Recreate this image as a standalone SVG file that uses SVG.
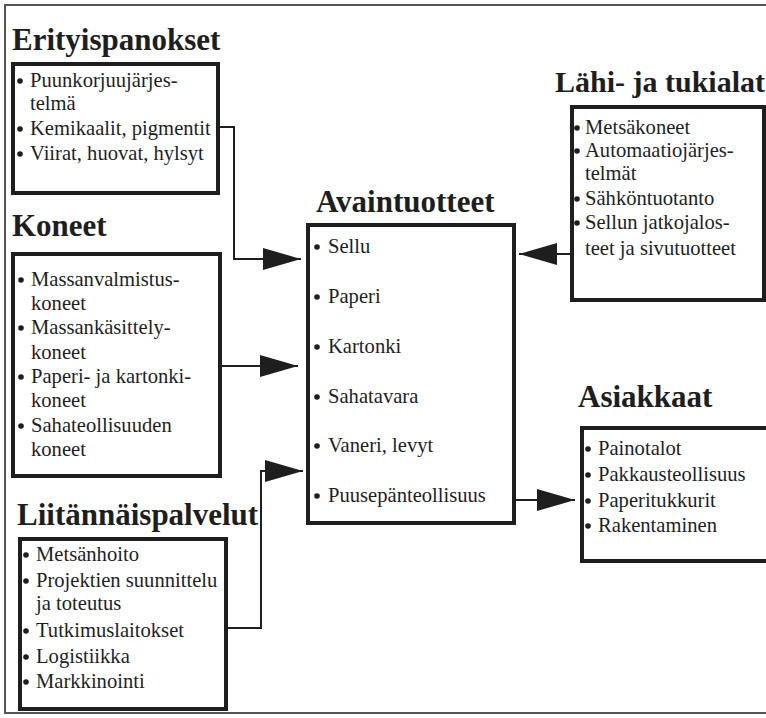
<svg xmlns="http://www.w3.org/2000/svg" width="766" height="718" viewBox="0 0 766 718">
<defs>
<style>
.title{font-family:"Liberation Serif","Times New Roman",serif;font-weight:bold;font-size:31px;fill:#1e1e1e}
.item{font-family:"Liberation Serif","Times New Roman",serif;font-size:20.6px;fill:#1e1e1e}
.box{fill:#fff;stroke:#1e1e1e;stroke-width:4}
.bul{fill:#1e1e1e}
.conn{fill:none;stroke:#1e1e1e;stroke-width:2}
.frame{fill:none;stroke:#555;stroke-width:2}
</style>
<marker id="arr" markerUnits="userSpaceOnUse" markerWidth="40" markerHeight="24" refX="38" refY="11" orient="auto">
<path d="M0,0 L38,11 L0,22 Z" fill="#1e1e1e"/>
</marker>
</defs>
<rect width="766" height="718" fill="#fff"/>
<path class="frame" d="M766,5 H5 V713 H766"/>

<g id="connectors">
<path class="conn" d="M218,127 H234 V259 H301" marker-end="url(#arr)"/>
<path class="conn" d="M220,366 H298" marker-end="url(#arr)"/>
<path class="conn" d="M226,628 H261 V471 H303" marker-end="url(#arr)"/>
<path class="conn" d="M572,254 H519" marker-end="url(#arr)"/>
<path class="conn" d="M514,500 H575" marker-end="url(#arr)"/>
</g>

<g id="erityispanokset">
<text class="title" x="12" y="50">Erityispanokset</text>
<rect class="box" x="13" y="64" width="205" height="129"/>
<circle class="bul" cx="20" cy="81" r="2.8"/>
<text class="item" x="30" y="87">Puunkorjuujärjes-</text>
<text class="item" x="30" y="110">telmä</text>
<circle class="bul" cx="20" cy="129" r="2.8"/>
<text class="item" x="30" y="135">Kemikaalit, pigmentit</text>
<circle class="bul" cx="20" cy="154" r="2.8"/>
<text class="item" x="30" y="160">Viirat, huovat, hylsyt</text>
</g>

<g id="koneet">
<text class="title" x="12" y="236">Koneet</text>
<rect class="box" x="13" y="254" width="207" height="222"/>
<circle class="bul" cx="21" cy="280" r="2.8"/>
<text class="item" x="31" y="286">Massanvalmistus-</text>
<text class="item" x="31" y="310">koneet</text>
<circle class="bul" cx="21" cy="328" r="2.8"/>
<text class="item" x="31" y="334">Massankäsittely-</text>
<text class="item" x="31" y="359">koneet</text>
<circle class="bul" cx="21" cy="377" r="2.8"/>
<text class="item" x="31" y="383">Paperi- ja kartonki-</text>
<text class="item" x="31" y="407">koneet</text>
<circle class="bul" cx="21" cy="426" r="2.8"/>
<text class="item" x="31" y="432">Sahateollisuuden</text>
<text class="item" x="31" y="456">koneet</text>
</g>

<g id="liitannaispalvelut">
<text class="title" x="17" y="525">Liitännäispalvelut</text>
<rect class="box" x="20" y="539" width="206" height="170"/>
<circle class="bul" cx="26" cy="555" r="2.8"/>
<text class="item" x="36" y="561">Metsänhoito</text>
<circle class="bul" cx="26" cy="581" r="2.8"/>
<text class="item" x="36" y="587">Projektien suunnittelu</text>
<text class="item" x="36" y="610">ja toteutus</text>
<circle class="bul" cx="26" cy="631" r="2.8"/>
<text class="item" x="36" y="637">Tutkimuslaitokset</text>
<circle class="bul" cx="26" cy="657" r="2.8"/>
<text class="item" x="36" y="663">Logistiikka</text>
<circle class="bul" cx="26" cy="682" r="2.8"/>
<text class="item" x="36" y="688">Markkinointi</text>
</g>

<g id="avaintuotteet">
<text class="title" x="316" y="212">Avaintuotteet</text>
<rect class="box" x="308" y="225" width="206" height="298"/>
<circle class="bul" cx="317" cy="247" r="2.8"/>
<text class="item" x="328" y="253">Sellu</text>
<circle class="bul" cx="317" cy="297" r="2.8"/>
<text class="item" x="328" y="303">Paperi</text>
<circle class="bul" cx="317" cy="347" r="2.8"/>
<text class="item" x="328" y="353">Kartonki</text>
<circle class="bul" cx="317" cy="397" r="2.8"/>
<text class="item" x="328" y="403">Sahatavara</text>
<circle class="bul" cx="317" cy="446" r="2.8"/>
<text class="item" x="328" y="452">Vaneri, levyt</text>
<circle class="bul" cx="317" cy="496" r="2.8"/>
<text class="item" x="328" y="502">Puusepänteollisuus</text>
</g>

<g id="lahi-ja-tukialat">
<text class="title" x="555" y="92" style="font-size:30px">Lähi- ja tukialat</text>
<rect class="box" x="572" y="107" width="192" height="193"/>
<circle class="bul" cx="577" cy="128" r="2.8"/>
<text class="item" x="585" y="134">Metsäkoneet</text>
<circle class="bul" cx="577" cy="151" r="2.8"/>
<text class="item" x="585" y="157">Automaatiojärjes-</text>
<text class="item" x="585" y="180">telmät</text>
<circle class="bul" cx="577" cy="199" r="2.8"/>
<text class="item" x="585" y="205">Sähköntuotanto</text>
<circle class="bul" cx="577" cy="223" r="2.8"/>
<text class="item" x="585" y="229">Sellun jatkojalos-</text>
<text class="item" x="585" y="255">teet ja sivutuotteet</text>
</g>

<g id="asiakkaat">
<text class="title" x="578" y="407">Asiakkaat</text>
<rect class="box" x="582" y="428" width="200" height="133"/>
<circle class="bul" cx="588" cy="449" r="2.8"/>
<text class="item" x="598" y="455">Painotalot</text>
<circle class="bul" cx="588" cy="475" r="2.8"/>
<text class="item" x="598" y="481">Pakkausteollisuus</text>
<circle class="bul" cx="588" cy="501" r="2.8"/>
<text class="item" x="598" y="507">Paperitukkurit</text>
<circle class="bul" cx="588" cy="526" r="2.8"/>
<text class="item" x="598" y="532">Rakentaminen</text>
</g>
</svg>
